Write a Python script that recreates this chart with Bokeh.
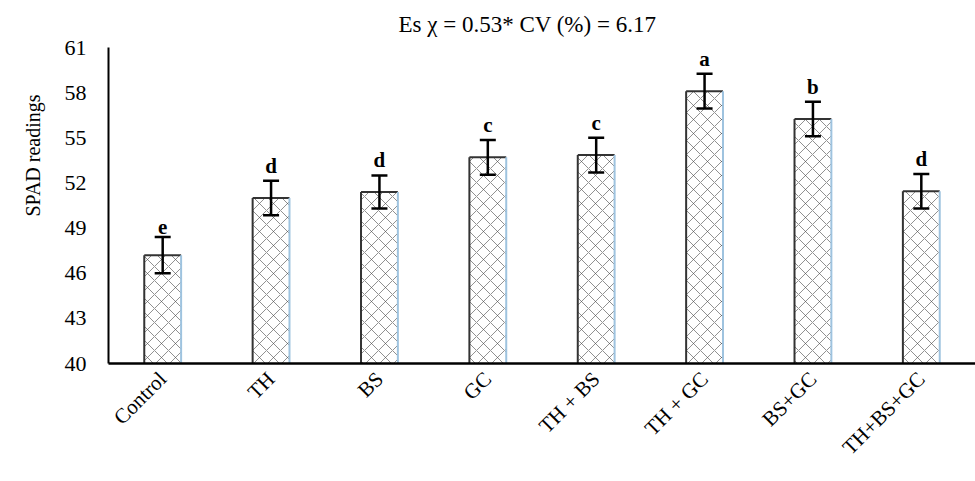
from bokeh.plotting import figure
from bokeh.models import ColumnDataSource, Whisker, TeeHead, FixedTicker
from bokeh.core.properties import value
from bokeh.embed import file_html
from bokeh.resources import INLINE
import math

categories = ["Control", "TH", "BS", "GC", "TH + BS", "TH + GC", "BS+GC", "TH+BS+GC"]
spad = [47.2, 51.0, 51.4, 53.7, 53.85, 58.1, 56.25, 51.45]
err = [1.2, 1.15, 1.1, 1.15, 1.15, 1.15, 1.15, 1.15]
letters = ["e", "d", "d", "c", "c", "a", "b", "d"]
y_ticks = [40, 43, 46, 49, 52, 55, 58, 61]

FONT = "Liberation Serif"
bw = 0.34
xs = [i + 0.5 for i in range(len(categories))]
src = ColumnDataSource(dict(
    x=xs, top=spad,
    left=[x - bw / 2 for x in xs], right=[x + bw / 2 for x in xs],
    base=[40] * len(xs),
    upper=[v + e for v, e in zip(spad, err)],
    lower=[v - e for v, e in zip(spad, err)],
    ly=[v + e + 0.2 for v, e in zip(spad, err)],
    lab=letters,
))

p = figure(width=975, height=481, x_range=(0, 8), y_range=(40, 61),
           output_backend="svg", toolbar_location=None,
           min_border_left=108, min_border_right=0, min_border_top=47, min_border_bottom=118)
p.outline_line_color = None
p.xgrid.visible = False
p.ygrid.visible = False

p.title.text = "Es \u03c7 = 0.53*  CV (%) = 6.17"
p.title.align = "left"
p.title.text_font = FONT
p.title.text_font_style = "normal"
p.title.text_font_size = "23px"
p.title.text_color = "black"
p.title.offset = 290
p.title.vertical_align = "top"
p.title.standoff = 18

p.vbar(x="x", width=bw, top="top", bottom=40, source=src, fill_color="white",
       line_color=None, hatch_pattern="diagonal_cross", hatch_color="#444444",
       hatch_scale=14, hatch_weight=0.6)
p.segment(x0="left", y0="base", x1="left", y1="top", source=src, line_color="#333333", line_width=2)
p.segment(x0="left", y0="top", x1="right", y1="top", source=src, line_color="#333333", line_width=2)
p.segment(x0="right", y0="base", x1="right", y1="top", source=src, line_color="#9ec3df", line_width=2)

wh = Whisker(base="x", upper="upper", lower="lower", source=src,
             line_color="black", line_width=2.5, level="overlay",
             upper_head=TeeHead(size=16, line_width=2.5, line_color="black"),
             lower_head=TeeHead(size=16, line_width=2.5, line_color="black"))
p.add_layout(wh)

p.text(x="x", y="ly", text="lab", source=src, text_align="center", text_baseline="bottom",
       text_font=value(FONT), text_font_style="bold", text_font_size="21px", text_color="black")

p.yaxis.ticker = FixedTicker(ticks=y_ticks)
p.yaxis.axis_label = "\u2003" * 5 + "SPAD readings"
p.yaxis.axis_label_text_font = FONT
p.yaxis.axis_label_text_font_style = "normal"
p.yaxis.axis_label_text_font_size = "20px"
p.yaxis.axis_label_text_color = "black"
p.yaxis.axis_label_standoff = 18
p.yaxis.major_label_text_font = FONT
p.yaxis.major_label_text_font_size = "22px"
p.yaxis.major_label_text_color = "black"
p.yaxis.axis_line_color = "black"
p.yaxis.axis_line_width = 2
p.yaxis.major_tick_line_color = None
p.yaxis.minor_tick_line_color = None
p.yaxis.major_label_standoff = 16

p.xaxis.ticker = FixedTicker(ticks=xs)
p.xaxis.major_label_overrides = {x: c for x, c in zip(xs, categories)}
p.xaxis.major_label_orientation = math.pi / 4
p.xaxis.major_label_text_font = FONT
p.xaxis.major_label_text_font_size = "21px"
p.xaxis.major_label_text_color = "black"
p.xaxis.major_label_standoff = 6
p.xaxis.axis_line_color = "black"
p.xaxis.axis_line_width = 2.5
p.xaxis.major_tick_line_color = None
p.xaxis.minor_tick_line_color = None

open("out.html", "w").write(file_html(p, INLINE))
